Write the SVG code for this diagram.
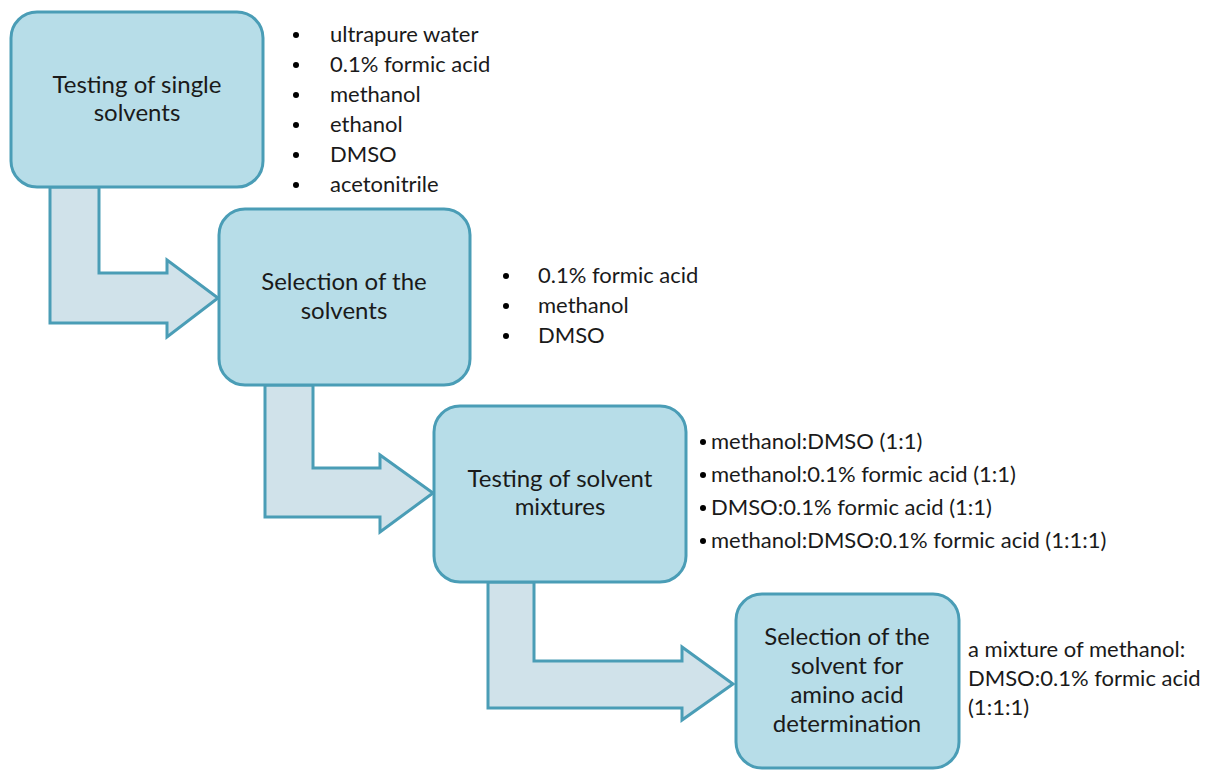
<svg xmlns="http://www.w3.org/2000/svg" width="1220" height="771" viewBox="0 0 1220 771">
<style>
.box{fill:#b7dde8;stroke:#4a9db6;stroke-width:3}
.arr{fill:#d0e2ea;stroke:#4a9db6;stroke-width:3;stroke-linejoin:miter}
.t{font-family:Lato,"Open Sans","Liberation Sans",sans-serif;font-size:24px;fill:#1a1a1a;text-anchor:middle}
.l{font-family:Lato,"Open Sans","Liberation Sans",sans-serif;font-size:22px;fill:#1a1a1a}
.r{font-family:Lato,"Open Sans","Liberation Sans",sans-serif;font-size:22px;fill:#1a1a1a}
.b{fill:#000}
</style>
<rect x="0" y="0" width="1220" height="771" fill="#fff"/>
<g id="connectors">
<path class="arr" d="M50,187 L99,187 L99,273 L167,273 L167,260 L218,298 L167,337 L167,323 L50,323 Z"/>
<path class="arr" d="M265,385 L313,385 L313,468 L380,468 L380,455 L433,493 L380,532 L380,517 L265,517 Z"/>
<path class="arr" d="M488,582 L534,582 L534,661 L682,661 L682,647 L733,684 L682,720 L682,708 L488,708 Z"/>
</g>
<g id="node1">
<rect class="box" x="11" y="12" width="252" height="175" rx="26"/>
<text class="t" x="137" y="93">Testing of single</text>
<text class="t" x="137" y="121">solvents</text>
</g>
<g id="node2">
<rect class="box" x="219" y="209" width="251" height="176" rx="26"/>
<text class="t" x="344" y="290">Selection of the</text>
<text class="t" x="344" y="319">solvents</text>
</g>
<g id="node3">
<rect class="box" x="434" y="406" width="252" height="176" rx="26"/>
<text class="t" x="560" y="487">Testing of solvent</text>
<text class="t" x="560" y="515">mixtures</text>
</g>
<g id="node4">
<rect class="box" x="736" y="594" width="223" height="174" rx="26"/>
<text class="t" x="847" y="645">Selection of the</text>
<text class="t" x="847" y="674">solvent for</text>
<text class="t" x="847" y="703">amino acid</text>
<text class="t" x="847" y="732">determination</text>
</g>
<g id="list1">
<circle class="b" cx="296" cy="35" r="3"/><text class="l" x="330" y="42">ultrapure water</text>
<circle class="b" cx="296" cy="65" r="3"/><text class="l" x="330" y="72">0.1% formic acid</text>
<circle class="b" cx="296" cy="95" r="3"/><text class="l" x="330" y="102">methanol</text>
<circle class="b" cx="296" cy="125" r="3"/><text class="l" x="330" y="132">ethanol</text>
<circle class="b" cx="296" cy="155" r="3"/><text class="l" x="330" y="162">DMSO</text>
<circle class="b" cx="296" cy="185" r="3"/><text class="l" x="330" y="192">acetonitrile</text>
</g>
<g id="list2">
<circle class="b" cx="506" cy="276" r="3"/><text class="l" x="538" y="283">0.1% formic acid</text>
<circle class="b" cx="506" cy="306" r="3"/><text class="l" x="538" y="313">methanol</text>
<circle class="b" cx="506" cy="336" r="3"/><text class="l" x="538" y="343">DMSO</text>
</g>
<g id="list3">
<circle class="b" cx="703" cy="442" r="3"/><text class="l" x="711" y="449">methanol:DMSO (1:1)</text>
<circle class="b" cx="703" cy="475" r="3"/><text class="l" x="711" y="482">methanol:0.1% formic acid (1:1)</text>
<circle class="b" cx="703" cy="508" r="3"/><text class="l" x="711" y="515">DMSO:0.1% formic acid (1:1)</text>
<circle class="b" cx="703" cy="541" r="3"/><text class="l" x="711" y="548">methanol:DMSO:0.1% formic acid (1:1:1)</text>
</g>
<g id="result">
<text class="r" x="968" y="657">a mixture of methanol:</text>
<text class="r" x="968" y="686">DMSO:0.1% formic acid</text>
<text class="r" x="968" y="715">(1:1:1)</text>
</g>
</svg>
